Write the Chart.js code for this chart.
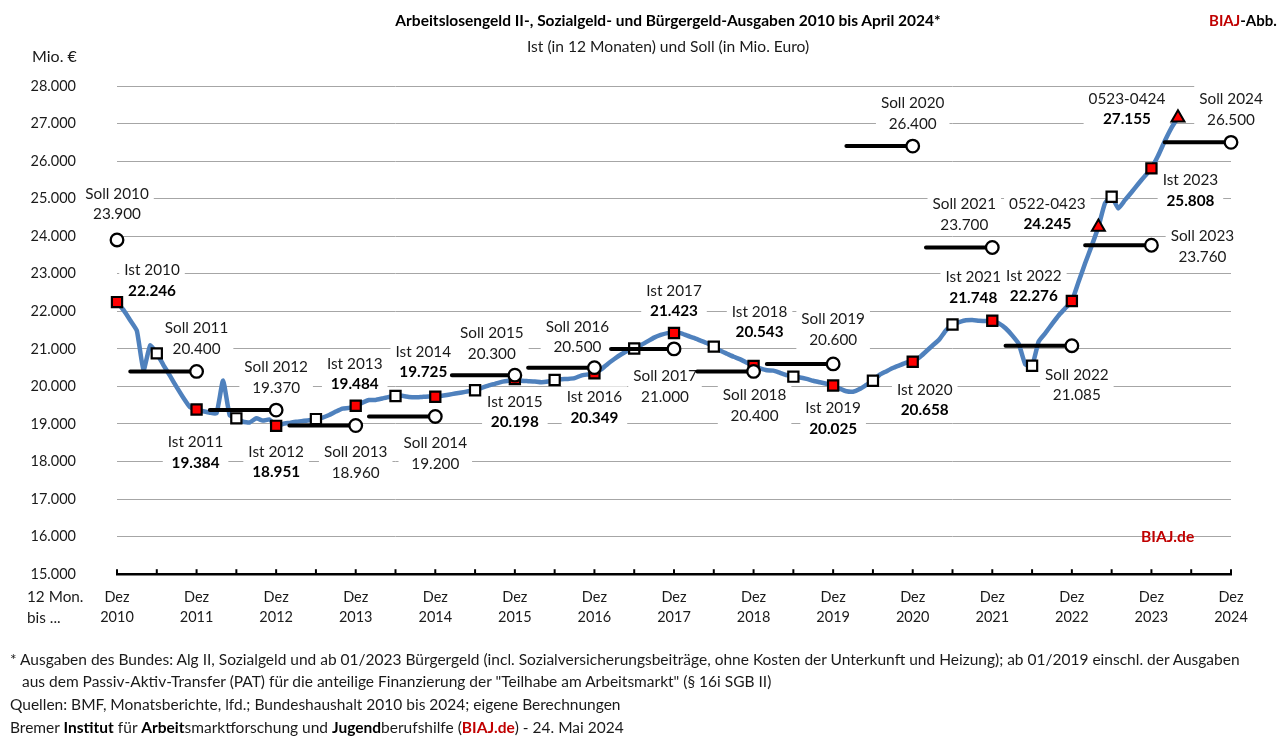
<!DOCTYPE html>
<html lang="de">
<head>
<meta charset="utf-8">
<title>BIAJ Ausgaben</title>
<script src="https://cdn.jsdelivr.net/npm/chart.js@4/dist/chart.umd.min.js"></script>
<style>
    body { margin: 0; background: #fff; overflow: hidden; font-family: Lato, sans-serif; color: #1a1a1a; }
    #wrap { position: relative; width: 1286px; height: 747px; }
    canvas { position: absolute; left: 0; top: 0; }
    .t { position: absolute; white-space: nowrap; line-height: 20px; font-size: 15.3px; }
    .c { transform: translateX(-50%); }
    .red { color: #c00000; font-weight: bold; }
    b { color: #000; }
    .foot { font-size: 15.5px; }
</style>
</head>
<body>
<div id="wrap">
    <canvas id="chart" width="1286" height="747"></canvas>
    <div class="t c" style="left:668px;top:10px;font-size:15.5px;"><b>Arbeitslosengeld II-, Sozialgeld- und Bürgergeld-Ausgaben 2010 bis April 2024*</b></div>
    <div class="t c" style="left:668px;top:36px;font-size:15.6px;">Ist (in 12 Monaten) und Soll (in Mio. Euro)</div>
    <div class="t" style="left:1209px;top:10px;font-size:15px;"><span class="red">BIAJ</span><b>-Abb.</b></div>
    <div class="t" style="left:32px;top:46px;font-size:16px;">Mio. €</div>
    <div class="t red" style="left:1141px;top:526px;font-size:15.6px;">BIAJ.de</div>
    <div class="t" style="left:27px;top:586px;">12 Mon.</div>
    <div class="t" style="left:27px;top:607px;">bis ...</div>
    <div class="t foot" style="left:10px;top:649px;">* Ausgaben des Bundes: Alg II, Sozialgeld und ab 01/2023 Bürgergeld (incl. Sozialversicherungsbeiträge, ohne Kosten der Unterkunft und Heizung); ab 01/2019 einschl. der Ausgaben</div>
    <div class="t foot" style="left:22px;top:671px;">aus dem Passiv-Aktiv-Transfer (PAT) für die anteilige Finanzierung der "Teilhabe am Arbeitsmarkt" (§ 16i SGB II)</div>
    <div class="t foot" style="left:10px;top:694px;">Quellen: BMF, Monatsberichte, lfd.; Bundeshaushalt 2010 bis 2024; eigene Berechnungen</div>
    <div class="t foot" style="left:10px;top:717px;">Bremer <b>Institut</b> für <b>Arbeit</b>smarktforschung und <b>Jugend</b>berufshilfe (<span class="red">BIAJ.de</span>) - 24. Mai 2024</div>
</div>
<script>
    // 12-Monats-Summe, one value per month from Dez 2010 to Apr 2024
    const lineValues = [
        22246,
        22030, 21760, 21480, 20430, 21090, 20880, 20570, 20280, 19980, 19700, 19450, 19384,
        19340, 19300, 19280, 20160, 19230, 19150, 19060, 19040, 19150, 19090, 19120, 18951,
        19000, 19030, 19060, 19080, 19100, 19130, 19170, 19240, 19330, 19410, 19430, 19484,
        19570, 19640, 19640, 19680, 19720, 19745, 19750, 19720, 19710, 19720, 19730, 19725,
        19750, 19780, 19810, 19840, 19870, 19900, 19960, 20020, 20070, 20120, 20150, 20198,
        20150, 20140, 20130, 20110, 20130, 20170, 20190, 20200, 20220, 20290, 20320, 20349,
        20450, 20600, 20730, 20850, 20950, 21010, 21100, 21200, 21300, 21370, 21420, 21423,
        21420, 21350, 21290, 21220, 21150, 21060, 20950, 20870, 20790, 20720, 20630, 20543,
        20480, 20430, 20420, 20360, 20300, 20260, 20240, 20200, 20150, 20110, 20070, 20025,
        19940, 19870, 19860, 19930, 20040, 20150, 20310, 20400, 20490, 20560, 20630, 20658,
        20770, 20930, 21090, 21250, 21490, 21650, 21710, 21760, 21770, 21750, 21740, 21748,
        21680, 21550, 21360, 21130, 20580, 20550, 21200, 21420, 21660, 21890, 22080, 22276,
        22780, 23280, 23750, 24245, 24880, 25050, 24740, 24960, 25170, 25390, 25600, 25808,
        26140, 26530, 26880, 27155
    ];
    const sollYears = [2010, 2011, 2012, 2013, 2014, 2015, 2016, 2017, 2018, 2019, 2020, 2021, 2022, 2023, 2024];
    const sollValues = [23900, 20400, 19370, 18960, 19200, 20300, 20500, 21000, 20400, 20600, 26400, 23700, 21085, 23760, 26500];
    // month where each Soll bar starts, counted from Dez 2010 (2010 has only its marker)
    const sollStarts = [null, 2, 14, 26, 38, 50.5, 62, 74.5, 87.5, 98, 110, 122, 134, 146, 158];
    const istYears = [2010, 2011, 2012, 2013, 2014, 2015, 2016, 2017, 2018, 2019, 2020, 2021, 2022, 2023];
    const periodMonths = [148, 160];
    const periodNames = ['0522-0423', '0523-0424'];
    const yearTicks = [2010, 2011, 2012, 2013, 2014, 2015, 2016, 2017, 2018, 2019, 2020, 2021, 2022, 2023, 2024];

    // label offsets from the marker in pixels (first text line)
    const sollLabelOffsets = [[0, -46], [0, -43], [0, -43], [0, 27], [0, 27], [-23, -42], [-17, -41], [-9, 27.5], [1, 24], [0, -44.5], [0, -43], [-28, -43], [5, 29], [51, -9], [0, -43]];
    const istLabelOffsets = [[35, -32], [-1, 33], [0, 26], [-1, -42], [-12, -45], [0, 23], [0, 24], [0, -42], [6, -54], [0, 23], [12, 28], [-19, -43.5], [-38, -25], [39, 12]];
    const periodLabelOffsets = [[-51, -23], [-51, -19]];

    const FONT = 'Lato, sans-serif';
    const LABEL_SIZE = 15.3;
    const monthOfYear = year => (year - 2010) * 12;
    const fmtVal = v => String(v).replace(/(\d{3})$/, '.$1');

    const lineData = lineValues.map((v, i) => ({ x: i, y: v }));
    const istData = istYears.map(y => ({ x: monthOfYear(y), y: lineValues[monthOfYear(y)] }));
    const halfData = lineData.filter(p => p.x % 12 === 6);
    const periodData = periodMonths.map(m => ({ x: m, y: lineValues[m] }));
    const sollMarkers = sollYears.map((y, i) => ({ x: monthOfYear(y), y: sollValues[i] }));
    const sollBars = [];
    sollYears.forEach((y, i) => {
        if (sollStarts[i] === null) return;
        sollBars.push({ x: sollStarts[i], y: sollValues[i] }, { x: monthOfYear(y), y: sollValues[i] }, { x: monthOfYear(y), y: null });
    });

    const labelList = [];
    sollYears.forEach((y, i) => labelList.push({ a: sollMarkers[i], o: sollLabelOffsets[i], top: 'Soll ' + y, val: fmtVal(sollValues[i]), bold: false }));
    istYears.forEach((y, i) => labelList.push({ a: istData[i], o: istLabelOffsets[i], top: 'Ist ' + y, val: fmtVal(istData[i].y), bold: true }));
    periodMonths.forEach((m, i) => labelList.push({ a: periodData[i], o: periodLabelOffsets[i], top: periodNames[i], val: fmtVal(lineValues[m]), bold: true }));

    const labelPlugin = {
        id: 'labelPlugin',
        beforeDatasetsDraw(chart) {
            const { ctx, scales } = chart;
            ctx.save();
            ctx.textBaseline = 'middle';
            ctx.textAlign = 'center';
            const items = labelList.map(l => ({
                l: l,
                cx: scales.x.getPixelForValue(l.a.x) + l.o[0],
                y1: scales.y.getPixelForValue(l.a.y) + l.o[1]
            }));
            // white boxes first so they cut the grid lines, not the neighbouring text
            items.forEach(it => {
                ctx.font = LABEL_SIZE + 'px ' + FONT;
                let w = ctx.measureText(it.l.top).width;
                ctx.font = (it.l.bold ? 'bold ' : '') + LABEL_SIZE + 'px ' + FONT;
                w = Math.max(w, ctx.measureText(it.l.val).width);
                // the Soll 2024 box also cuts the top grid line in the original
                const extra = it.l.top === 'Soll 2024' ? 4 : 0;
                ctx.fillStyle = '#fff';
                ctx.fillRect(it.cx - w / 2 - 5, it.y1 - 11 - extra, w + 10, 42 + extra);
            });
            items.forEach(it => {
                ctx.fillStyle = '#1a1a1a';
                ctx.font = LABEL_SIZE + 'px ' + FONT;
                ctx.fillText(it.l.top, it.cx, it.y1);
                ctx.fillStyle = it.l.bold ? '#000' : '#1a1a1a';
                ctx.font = (it.l.bold ? 'bold ' : '') + LABEL_SIZE + 'px ' + FONT;
                ctx.fillText(it.l.val, it.cx, it.y1 + 20.5);
            });
            ctx.restore();
        }
    };

    // x axis ticks point upwards in the original
    const upTicks = {
        id: 'upTicks',
        afterDatasetsDraw(chart) {
            const { ctx, scales } = chart;
            ctx.save();
            ctx.strokeStyle = '#000';
            ctx.lineWidth = 2;
            scales.x.ticks.forEach(t => {
                const px = scales.x.getPixelForValue(t.value);
                ctx.beginPath();
                ctx.moveTo(px, scales.y.bottom);
                ctx.lineTo(px, scales.y.bottom - 5);
                ctx.stroke();
            });
            ctx.restore();
        }
    };

    new Chart(document.getElementById('chart'), {
        type: 'line',
        data: {
            datasets: [
                { label: 'Soll', data: sollMarkers, showLine: false, order: 1, clip: false, pointStyle: 'circle', pointRadius: 6.3, pointBackgroundColor: '#fff', pointBorderColor: '#000', pointBorderWidth: 2.3 },
                { label: 'Soll Balken', data: sollBars, order: 2, clip: false, borderColor: '#000', borderWidth: 4, borderCapStyle: 'round', pointRadius: 0, spanGaps: false, tension: 0 },
                { label: 'Zeitraum', data: periodData, showLine: false, order: 3, clip: false, pointStyle: 'triangle', pointRadius: 7.5, pointBackgroundColor: '#ff0000', pointBorderColor: '#000', pointBorderWidth: 2 },
                { label: 'Ist', data: istData, showLine: false, order: 4, clip: false, pointStyle: 'rect', pointRadius: 7.2, pointBackgroundColor: '#ff0000', pointBorderColor: '#000', pointBorderWidth: 2.2 },
                { label: 'Halbjahr', data: halfData, showLine: false, order: 5, clip: false, pointStyle: 'rect', pointRadius: 7.2, pointBackgroundColor: '#fff', pointBorderColor: '#000', pointBorderWidth: 2.2 },
                { label: '12 Monate', data: lineData, order: 6, clip: false, borderColor: '#4f81bd', borderWidth: 4.5, pointRadius: 0, tension: 0.15, borderCapStyle: 'round' }
            ]
        },
        options: {
            responsive: false,
            animation: false,
            events: [],
            layout: { padding: { top: 86, right: 55, left: 0, bottom: 0 } },
            plugins: { legend: { display: false }, tooltip: { enabled: false } },
            scales: {
                x: {
                    type: 'linear',
                    min: 0,
                    max: 168,
                    afterFit(scale) { scale.height = 172.8; },
                    grid: { display: false, drawTicks: false },
                    border: { display: true, color: '#000', width: 2.4 },
                    ticks: {
                        stepSize: 6,
                        autoSkip: false,
                        maxRotation: 0,
                        padding: 13,
                        color: '#1a1a1a',
                        font: { family: FONT, size: 14.5, lineHeight: 1.4 },
                        callback(value) {
                            if (value % 12 !== 0) return '';
                            return ['Dez', String(yearTicks[value / 12])];
                        }
                    }
                },
                y: {
                    min: 15000,
                    max: 28000,
                    afterFit(scale) { scale.width = 117; },
                    grid: { color: '#a6a6a6', lineWidth: 1, drawTicks: false },
                    border: { display: false },
                    ticks: {
                        stepSize: 1000,
                        padding: 41,
                        color: '#1a1a1a',
                        font: { family: FONT, size: 14.5 },
                        callback: value => fmtVal(value)
                    }
                }
            }
        },
        plugins: [labelPlugin, upTicks]
    });
</script>
</body>
</html>
